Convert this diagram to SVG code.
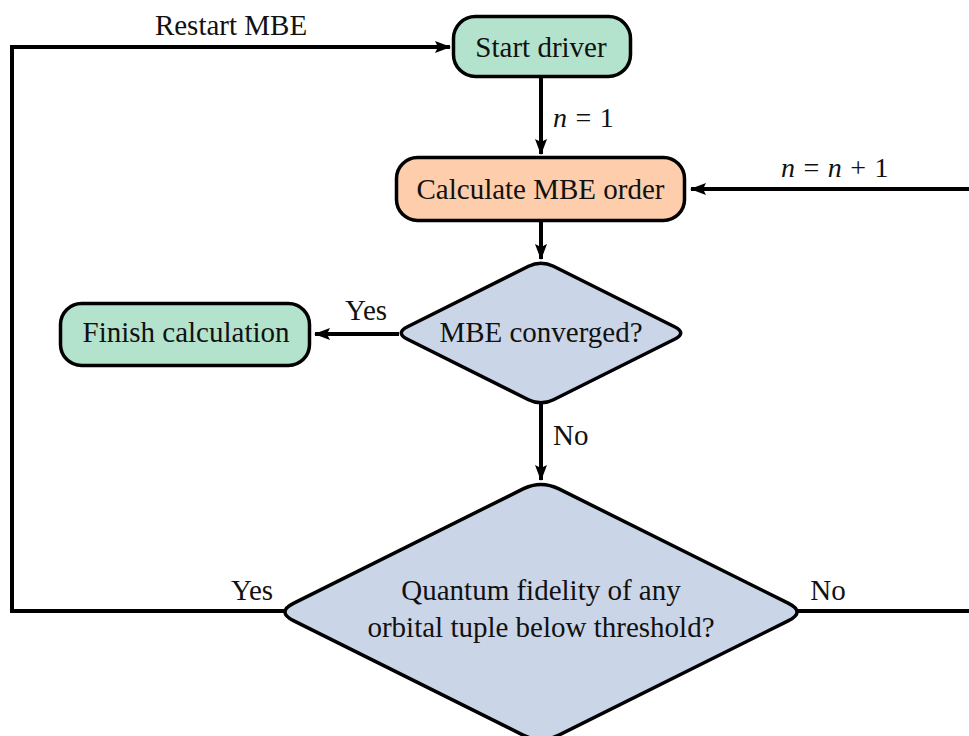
<svg xmlns="http://www.w3.org/2000/svg" width="969" height="736" viewBox="0 0 969 736">
<style>
.t{font-family:"Liberation Serif","DejaVu Serif",serif;font-size:29px;fill:#111;}
.m{font-family:"Liberation Serif","DejaVu Serif",serif;font-size:28px;fill:#111;word-spacing:1.5px;}
.i{font-style:italic;}
.c{text-anchor:middle;}
.edge{fill:none;stroke:#000;stroke-width:4;}
.node{stroke:#000;stroke-width:3.5;}
.g{fill:#b3e2cd;}
.o{fill:#fdcdac;}
.b{fill:#cbd5e8;}
</style>
<defs>
<marker id="ah" viewBox="0 0 16 12" refX="15" refY="6" markerWidth="16" markerHeight="12" markerUnits="userSpaceOnUse" orient="auto">
<path d="M0,0 L16,6 L0,12 L3,6 Z" fill="#000"/>
</marker>
</defs>
<rect width="969" height="736" fill="#fff"/>
<g id="connectors">
<path class="edge" d="M541,78 V154" marker-end="url(#ah)"/>
<path class="edge" d="M969,189 H691" marker-end="url(#ah)"/>
<path class="edge" d="M541,222 V259" marker-end="url(#ah)"/>
<path class="edge" d="M399,334 H315" marker-end="url(#ah)"/>
<path class="edge" d="M541,404 V480" marker-end="url(#ah)"/>
<path class="edge" d="M286,611 H12 V47 H450" marker-end="url(#ah)"/>
<path class="edge" d="M797,611 H975"/>
<text class="t c" x="231" y="35">Restart MBE</text>
<text class="m" x="553" y="127"><tspan class="i">n</tspan> = 1</text>
<text class="m" x="781" y="177"><tspan class="i">n</tspan> = <tspan class="i">n</tspan> + 1</text>
<text class="t c" x="366" y="320">Yes</text>
<text class="t" x="553" y="445">No</text>
<text class="t c" x="252" y="600">Yes</text>
<text class="t c" x="828" y="600">No</text>
</g>
<g id="start">
<rect class="node g" x="453.5" y="16.5" width="177" height="60" rx="22"/>
<text class="t c" x="541" y="57">Start driver</text>
</g>
<g id="calc">
<rect class="node o" x="396.5" y="157.5" width="288" height="63" rx="21"/>
<text class="t c" x="540.5" y="199">Calculate MBE order</text>
</g>
<g id="converged">
<path class="node b" d="M528.5,266.3 Q541,260 553.5,266.3 L674.5,326.7 Q687,333 674.5,339.3 L553.5,399.7 Q541,406 528.5,399.7 L407.5,339.3 Q395,333 407.5,326.7 Z"/>
<text class="t c" x="541" y="342">MBE converged?</text>
</g>
<g id="finish">
<rect class="node g" x="60.5" y="303.5" width="249" height="62" rx="21"/>
<text class="t c" x="186" y="342">Finish calculation</text>
</g>
<g id="fidelity">
<path class="node b" d="M523.1,488.9 Q541,480 558.9,488.9 L788.1,603.1 Q806,612 788.1,620.9 L558.9,735.1 Q541,744 523.1,735.1 L293.9,620.9 Q276,612 293.9,603.1 Z"/>
<text class="t c" x="541" y="600">Quantum fidelity of any</text>
<text class="t c" x="541" y="637">orbital tuple below threshold?</text>
</g>
</svg>
